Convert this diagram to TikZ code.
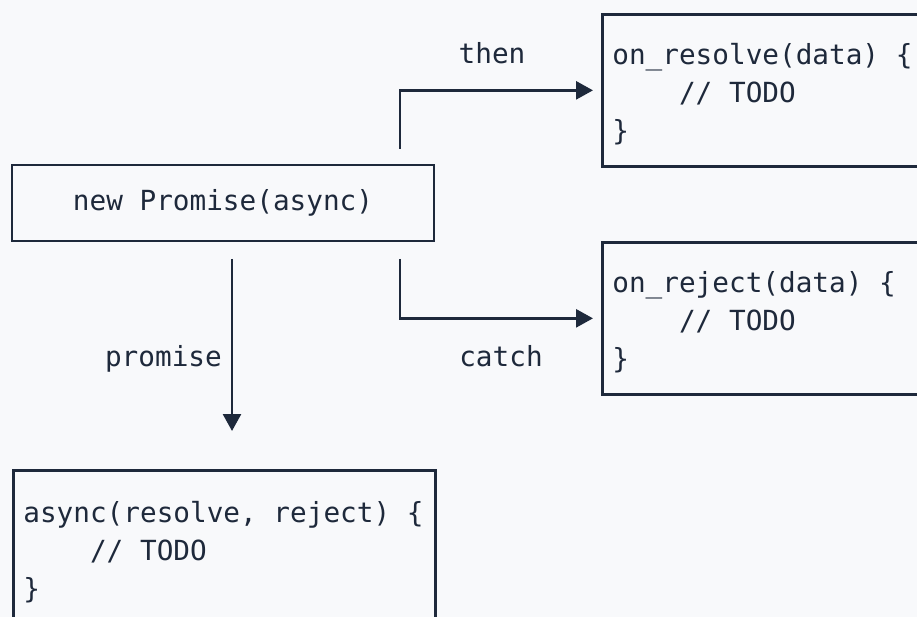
\documentclass[tikz,border=0pt]{standalone}
\usepackage{fontspec}
\setmonofont{DejaVu Sans Mono}
\usetikzlibrary{positioning,arrows.meta}
\definecolor{ink}{HTML}{1E293B}
\definecolor{paper}{HTML}{F8F9FB}
\begin{document}
\begin{tikzpicture}[x=1pt,y=-1pt,
  box/.style={draw=ink,line width=2.7pt,text=ink,inner xsep=10pt,inner ysep=0pt,
    font=\ttfamily\fontsize{27.7}{38}\selectfont,minimum width=422pt},
  codebox/.style={box,anchor=north west,align=left,text width=402pt,minimum height=152pt,
    execute at begin node={\spaceskip=0pt\xspaceskip=0pt\rule{0pt}{28pt}}},
  lbl/.style={text=ink,inner sep=0pt,font=\ttfamily\fontsize{27.7}{38}\selectfont},
  arr/.style={draw=ink,line width=2.7pt,-{Triangle[length=17pt,width=18pt]},shorten >=8pt}]
\clip (0,0) rectangle (917,617);
\fill[paper] (0,0) rectangle (917,617);
\node[box,minimum height=76pt] (np) at (223,203) {new Promise(async)};
\node[codebox] (res) at (601,13) {on\_resolve(data) \{\\\phantom{abcd}// TODO\\\}};
\node[codebox] (rej) at (601,241) {on\_reject(data) \{\\\phantom{abcd}// TODO\\\}};
\node[codebox,minimum height=156pt] (asy) at (12,469) {async(resolve, reject) \{\\\phantom{abcd}// TODO\\\}};
\coordinate (thenfrom) at (400,149);
\coordinate (catchfrom) at (400,259);
\coordinate (promfrom) at (232,259);
\draw[arr] (thenfrom) |- (res.west);
\draw[arr] (catchfrom) |- (rej.west);
\draw[arr,-{Triangle[length=17pt,width=18pt,sep=9pt]},shorten >=29pt] (promfrom) -- (promfrom |- asy.north);
\node[lbl,anchor=base] (then) at (492,64) {then};
\node[lbl,anchor=base] (catch) at (501,366) {catch};
\node[lbl,anchor=base east] (promise) at (222,366) {promise};
\end{tikzpicture}
\end{document}
